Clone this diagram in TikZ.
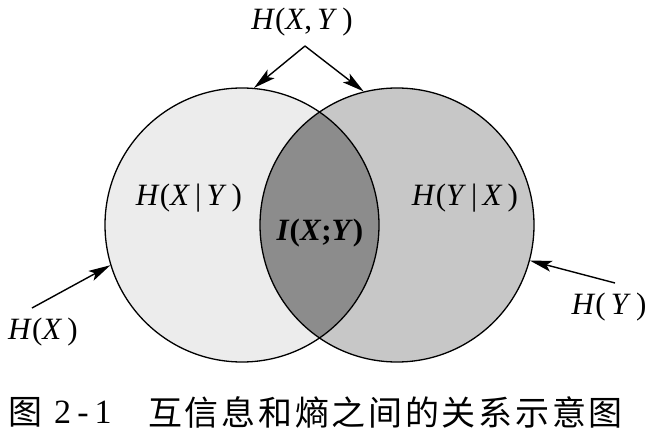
\documentclass[tikz,border=0pt]{standalone}
\usepackage{fontspec}
\setmainfont{Liberation Serif}
\newfontfamily\cjk[LetterSpace=8]{Noto Sans CJK SC}
\newfontfamily\capnum[LetterSpace=18]{Liberation Serif}
\usetikzlibrary{arrows.meta}
\begin{document}
\begin{tikzpicture}[x=1pt,y=1pt,
  lbl/.style={font=\fontsize{31}{34}\selectfont, inner sep=0pt},
  ring/.style={circle, minimum size=274pt, inner sep=0pt, draw=black, line width=1.3pt},
  arr/.style={line width=1.4pt, -{Stealth[length=22pt,width=11pt,inset=5pt]}},
  captxt/.style={anchor=west, inner sep=0pt, font=\fontsize{34}{36}\selectfont}]
\useasboundingbox (0,0) rectangle (650,437);
% fills
\fill[gray!15] (242,212) circle (137);
\fill[gray!44] (397,212) circle (137);
\begin{scope}
  \clip (242,212) circle (137);
  \fill[gray!90] (397,212) circle (137);
\end{scope}
% outlines as named nodes
\node[ring] (L) at (242,212) {};
\node[ring] (R) at (397,212) {};
% labels
\node[lbl] (hxy) at (302,415) {\textit{H}(\textit{X},\,\textit{Y}\,)};
\node[lbl] (hxgy) at (189,239) {\textit{H}(\textit{X}\,|\,\textit{Y}\,)};
\node[lbl] (hygx) at (465,239) {\textit{H}(\textit{Y}\,|\,\textit{X}\,)};
\node[lbl] (ixy) at (320,204) {\textbf{\textit{I}(\textit{X};\textit{Y})}};
\node[lbl] (hx) at (43,105) {\textit{H}(\textit{X}\,)};
\node[lbl] (hy) at (609,130) {\textit{H}(\,\textit{Y}\,)};
% arrows
\coordinate (apex) at (305,391);
\coordinate (hxs) at (32,129);
\coordinate (hys) at (615,154);
\draw[arr] (apex) -- (L.85);
\draw[arr] (apex) -- (R.104);
\draw[arr] (hxs) -- (L.197);
\draw[arr] (hys) -- (R.-15);
% caption
\node[captxt] (fig) at (8,25) {\cjk 图};
\node[captxt] (fignum) at (54,25) {\capnum 2-1};
\node[captxt] (cap) at (148,25) {\cjk 互信息和熵之间的关系示意图};
\end{tikzpicture}
\end{document}
